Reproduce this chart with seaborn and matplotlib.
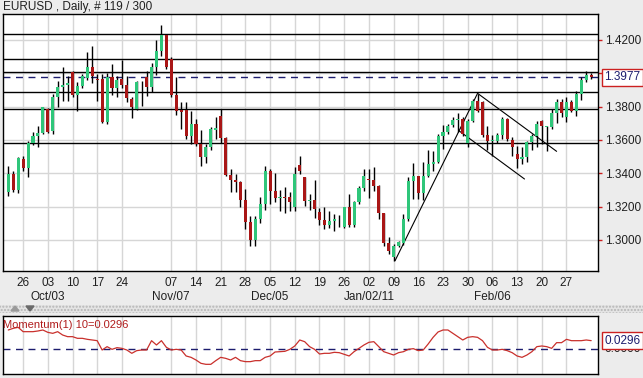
import numpy as np
import pandas as pd
import matplotlib
matplotlib.use('Agg')
import matplotlib.pyplot as plt
import matplotlib.transforms as mtransforms
from matplotlib.patches import Rectangle, Polygon
import seaborn as sns

# --- dados (EURUSD diario, 119 barras) ---
opens = [1.3286, 1.3396, 1.3300, 1.3486, 1.3432, 1.3580, 1.3626, 1.3640, 1.3786, 1.3656,
         1.3860, 1.3920, 1.3928, 1.4006, 1.3872, 1.3926, 1.3970, 1.4036, 1.3966, 1.3966,
         1.3706, 1.3980, 1.3912, 1.3966, 1.3932, 1.3846, 1.3786, 1.3946, 1.3980, 1.3920,
         1.4040, 1.4136, 1.4232, 1.4086, 1.3870, 1.3780, 1.3780, 1.3626, 1.3696, 1.3576,
         1.3500, 1.3560, 1.3662, 1.3746, 1.3612, 1.3392, 1.3362, 1.3346, 1.3240, 1.3106,
         1.3000, 1.3126, 1.3216, 1.3416, 1.3296, 1.3252, 1.3256, 1.3256, 1.3196, 1.3452,
         1.3376, 1.3232, 1.3240, 1.3166, 1.3120, 1.3092, 1.3116, 1.3126, 1.3080, 1.3196,
         1.3092, 1.3226, 1.3312, 1.3362, 1.3360, 1.3326, 1.3160, 1.2980, 1.2896, 1.2966,
         1.2980, 1.3126, 1.3356, 1.3382, 1.3280, 1.3386, 1.3456, 1.3470, 1.3626, 1.3646,
         1.3690, 1.3720, 1.3726, 1.3580, 1.3716, 1.3832, 1.3826, 1.3632, 1.3592, 1.3592,
         1.3632, 1.3726, 1.3600, 1.3516, 1.3486, 1.3500, 1.3586, 1.3626, 1.3716, 1.3680,
         1.3680, 1.3760, 1.3826, 1.3740, 1.3826, 1.3776, 1.3876, 1.3960, 1.3990]
highs = [1.3446, 1.3416, 1.3500, 1.3506, 1.3596, 1.3646, 1.3686, 1.3800, 1.3792, 1.3876,
         1.3956, 1.4040, 1.3986, 1.4012, 1.3946, 1.3996, 1.4130, 1.4166, 1.3996, 1.3996,
         1.4000, 1.4056, 1.3986, 1.4080, 1.3986, 1.3860, 1.3956, 1.3956, 1.4016, 1.4060,
         1.4200, 1.4292, 1.4236, 1.4096, 1.3980, 1.3826, 1.3826, 1.3776, 1.3726, 1.3660,
         1.3576, 1.3676, 1.3736, 1.3786, 1.3616, 1.3426, 1.3396, 1.3356, 1.3306, 1.3146,
         1.3146, 1.3256, 1.3446, 1.3426, 1.3400, 1.3300, 1.3320, 1.3286, 1.3436, 1.3506,
         1.3380, 1.3276, 1.3360, 1.3192, 1.3200, 1.3176, 1.3156, 1.3152, 1.3200, 1.3276,
         1.3236, 1.3326, 1.3426, 1.3426, 1.3436, 1.3332, 1.3160, 1.3016, 1.2976, 1.2996,
         1.3156, 1.3380, 1.3460, 1.3386, 1.3466, 1.3540, 1.3536, 1.3636, 1.3692, 1.3696,
         1.3736, 1.3760, 1.3740, 1.3726, 1.3846, 1.3876, 1.3832, 1.3686, 1.3632, 1.3640,
         1.3736, 1.3732, 1.3620, 1.3566, 1.3556, 1.3596, 1.3636, 1.3716, 1.3720, 1.3686,
         1.3786, 1.3846, 1.3846, 1.3860, 1.3840, 1.3892, 1.3976, 1.4012, 1.4004]
lows = [1.3266, 1.3286, 1.3282, 1.3416, 1.3380, 1.3572, 1.3560, 1.3636, 1.3640, 1.3636,
        1.3800, 1.3832, 1.3836, 1.3860, 1.3776, 1.3912, 1.3960, 1.3940, 1.3832, 1.3700,
        1.3696, 1.3872, 1.3860, 1.3912, 1.3826, 1.3732, 1.3780, 1.3806, 1.3866, 1.3886,
        1.3992, 1.4106, 1.4026, 1.3860, 1.3752, 1.3666, 1.3606, 1.3576, 1.3566, 1.3446,
        1.3460, 1.3540, 1.3606, 1.3580, 1.3386, 1.3286, 1.3286, 1.3200, 1.3066, 1.2966,
        1.2966, 1.3100, 1.3180, 1.3216, 1.3226, 1.3176, 1.3160, 1.3172, 1.3176, 1.3396,
        1.3206, 1.3180, 1.3132, 1.3092, 1.3066, 1.3072, 1.3052, 1.3076, 1.3072, 1.3080,
        1.3076, 1.3216, 1.3292, 1.3252, 1.3292, 1.3126, 1.2966, 1.2916, 1.2872, 1.2956,
        1.2972, 1.3116, 1.3246, 1.3246, 1.3240, 1.3376, 1.3416, 1.3460, 1.3546, 1.3636,
        1.3676, 1.3646, 1.3626, 1.3556, 1.3706, 1.3766, 1.3620, 1.3540, 1.3506, 1.3580,
        1.3606, 1.3596, 1.3506, 1.3432, 1.3456, 1.3466, 1.3540, 1.3556, 1.3576, 1.3532,
        1.3666, 1.3700, 1.3736, 1.3706, 1.3766, 1.3746, 1.3840, 1.3946, 1.3966]
closes = [1.3396, 1.3300, 1.3492, 1.3432, 1.3580, 1.3626, 1.3640, 1.3796, 1.3650, 1.3860,
          1.3920, 1.3928, 1.3944, 1.3872, 1.3926, 1.3984, 1.4036, 1.3986, 1.3962, 1.3706,
          1.3976, 1.3912, 1.3960, 1.3932, 1.3852, 1.3800, 1.3946, 1.3950, 1.3920, 1.4036,
          1.4136, 1.4232, 1.4040, 1.3870, 1.3776, 1.3770, 1.3626, 1.3696, 1.3576, 1.3500,
          1.3560, 1.3666, 1.3672, 1.3612, 1.3392, 1.3362, 1.3346, 1.3240, 1.3106, 1.3000,
          1.3126, 1.3216, 1.3416, 1.3296, 1.3252, 1.3256, 1.3250, 1.3226, 1.3396, 1.3416,
          1.3232, 1.3240, 1.3186, 1.3120, 1.3092, 1.3116, 1.3126, 1.3124, 1.3196, 1.3092,
          1.3226, 1.3312, 1.3386, 1.3360, 1.3326, 1.3160, 1.2980, 1.2936, 1.2966, 1.2986,
          1.3126, 1.3356, 1.3386, 1.3280, 1.3386, 1.3456, 1.3470, 1.3626, 1.3646, 1.3686,
          1.3720, 1.3726, 1.3636, 1.3716, 1.3836, 1.3772, 1.3632, 1.3592, 1.3600, 1.3632,
          1.3726, 1.3606, 1.3556, 1.3486, 1.3500, 1.3586, 1.3626, 1.3696, 1.3686, 1.3682,
          1.3760, 1.3826, 1.3760, 1.3826, 1.3776, 1.3876, 1.3960, 1.3992, 1.3977]

momentum = [0.0659, 0.0716, 0.0750, 0.0602, 0.0602, 0.0602, 0.0625, 0.0659, 0.0579, 0.0545,
            0.0602, 0.0488, 0.0432, 0.0432, 0.0375, 0.0375, 0.0341, 0.0318, 0.0295, -0.0023,
            0.0091, 0.0000, 0.0057, 0.0034, -0.0023, -0.0136, -0.0045, -0.0023, -0.0023, 0.0295,
            0.0148, 0.0295, 0.0068, -0.0023, 0.0000, -0.0023, -0.0227, -0.0273, -0.0364, -0.0477,
            -0.0511, -0.0511, -0.0386, -0.0273, -0.0307, -0.0364, -0.0273, -0.0386, -0.0420, -0.0420,
            -0.0386, -0.0386, -0.0273, -0.0227, -0.0091, -0.0080, -0.0068, 0.0000, 0.0114, 0.0318,
            0.0261, 0.0091, 0.0000, -0.0159, -0.0136, -0.0136, -0.0102, -0.0114, -0.0170, -0.0227,
            -0.0080, 0.0034, 0.0148, 0.0239, 0.0261, 0.0091, -0.0080, -0.0136, -0.0193, -0.0114,
            -0.0080, 0.0000, 0.0023, -0.0045, -0.0023, 0.0182, 0.0409, 0.0591, 0.0659, 0.0659,
            0.0545, 0.0432, 0.0318, 0.0409, 0.0432, 0.0409, 0.0295, 0.0068, -0.0023, -0.0023,
            0.0000, -0.0045, -0.0114, -0.0227, -0.0273, -0.0193, -0.0080, 0.0091, 0.0114, 0.0091,
            0.0034, 0.0227, 0.0227, 0.0341, 0.0295, 0.0295, 0.0295, 0.0318, 0.0296]

# eixo x: rotulos semanais (a semana de 31/out nao tem rotulo no original)
tick_idx = [3, 8, 13, 18, 23, 33, 38, 43, 48, 53, 58, 63, 68, 73, 78, 83, 88, 93, 98, 103, 108, 113]
tick_days = ['26', '03', '10', '17', '24', '07', '14', '21', '28', '05', '12',
             '19', '26', '02', '09', '16', '23', '30', '06', '13', '20', '27']
month_idx = [8, 33, 53, 73, 98]
month_labels = ['Oct/03', 'Nov/07', 'Dec/05', 'Jan/02/11', 'Feb/06']

# niveis horizontais e linhas de tendencia desenhadas no grafico
levels = [1.4234, 1.4084, 1.4007, 1.3886, 1.3785, 1.3582]
last_price = 1.3977
trend_up = ([78.3, 95.0], [1.2876, 1.3880])
channel_top = ([95.0, 111.0], [1.3880, 1.3532])
channel_bottom = ([91.2, 104.5], [1.3656, 1.3366])
price_ticks = [1.30, 1.32, 1.34, 1.36, 1.38, 1.40, 1.42]

df = pd.DataFrame({'open': opens, 'high': highs, 'low': lows, 'close': closes,
                   'momentum': momentum})
df['idx'] = np.arange(len(df))

sns.set_style('white')
plt.rcParams['font.family'] = ['Liberation Sans', 'DejaVu Sans']

W, H = 643, 378
fig = plt.figure(figsize=(W / 100, H / 100), dpi=100, facecolor='#ececec')
ax = fig.add_axes([3 / W, 1 - 271 / H, 595 / W, 257 / H])
ax2 = fig.add_axes([3 / W, 1 - 374 / H, 595 / W, 58 / H])

XMIN, XMAX = -1.07, 119.38
GRID = '#d6d6d6'
GREEN = '#2fc67a'
RED = '#a91616'
NAVY = '#1c1c6e'

# --- painel de precos ---
ax.set_facecolor('white')
for x in tick_idx:
    ax.axvline(x, color=GRID, lw=1, zorder=0)
for y in price_ticks:
    ax.axhline(y, color=GRID, lw=1, zorder=0)
for lv in levels:
    ax.axhline(lv, color='black', lw=1, zorder=1)
ax.axhline(last_price, color=NAVY, lw=1, ls=(0, (5, 4)), zorder=1)

ax.plot(*trend_up, color='black', lw=0.8, zorder=2)
ax.plot(*channel_top, color='black', lw=0.8, zorder=2)
ax.plot(*channel_bottom, color='black', lw=0.8, zorder=2)

up = df['close'] >= df['open']
ax.vlines(df['idx'], df['low'], df['high'], color='black', lw=1, zorder=3)
body_bottom = df[['open', 'close']].min(axis=1)
body_height = np.maximum((df['close'] - df['open']).abs(), 0.0004)
ax.bar(df['idx'], body_height, bottom=body_bottom, width=0.62,
       color=np.where(up, GREEN, RED), edgecolor='none', zorder=4)

ax.set_xlim(XMIN, XMAX)
ax.set_ylim(1.2814, 1.4356)
ax.set_xticks(tick_idx)
ax.set_xticklabels(tick_days, fontsize=8.5, color='#202020')
ax.tick_params(axis='x', length=0, pad=4)
ax.yaxis.tick_right()
ax.set_yticks(price_ticks)
ax.set_yticklabels([f'{v:.4f}' for v in price_ticks], fontsize=8.5, color='#202020')
ax.tick_params(axis='y', length=3, width=1, color='#cc2020', pad=2)
for s in ax.spines.values():
    s.set_color('black')
    s.set_linewidth(1)

trans = mtransforms.blended_transform_factory(ax.transData, ax.transAxes)
for i, lab in zip(month_idx, month_labels):
    ax.text(i, -0.101, lab, transform=trans, ha='center', va='center',
            fontsize=8.5, color='#202020')

ytrans = mtransforms.blended_transform_factory(ax.transAxes, ax.transData)
ax.text(1.011, last_price, f'{last_price:.4f}', transform=ytrans, ha='left', va='center',
        fontsize=8.5, color=NAVY, zorder=10,
        bbox=dict(boxstyle='square,pad=0.2', fc='white', ec='#cc2020', lw=1))

# --- faixa separadora ---
fig.patches.append(Rectangle((0, 1 - 313 / H), 1, 8 / H, transform=fig.transFigure,
                             facecolor='#e4e4e4', edgecolor='#b5b5b5', hatch='.....',
                             lw=0, zorder=0))
fig.patches.append(Polygon([[11 / W, 1 - 311 / H], [19 / W, 1 - 311 / H], [15 / W, 1 - 306 / H]],
                           closed=True, transform=fig.transFigure, color='#9a9a9a'))
fig.patches.append(Polygon([[26 / W, 1 - 306 / H], [34 / W, 1 - 306 / H], [30 / W, 1 - 311 / H]],
                           closed=True, transform=fig.transFigure, color='#6a6a6a'))

# --- painel do momentum ---
ax2.set_facecolor('white')
for x in tick_idx:
    ax2.axvline(x, color=GRID, lw=1, zorder=0)
ax2.axhline(0, color=NAVY, lw=1, ls=(0, (5, 4)), zorder=1)
sns.lineplot(data=df, x='idx', y='momentum', ax=ax2, color='#c9302c', lw=0.9, zorder=2)
ax2.set_xlim(XMIN, XMAX)
ax2.set_ylim(-0.0841, 0.1136)
ax2.set_xticks([])
ax2.set_yticks([])
ax2.set_xlabel('')
ax2.set_ylabel('')
for s in ax2.spines.values():
    s.set_color('black')
    s.set_linewidth(1)
ax2.text(0.0, 0.84, 'Momentum(1) 10=0.0296', transform=ax2.transAxes, ha='left',
         va='center', fontsize=8, color='#b01c1c')
ytrans2 = mtransforms.blended_transform_factory(ax2.transAxes, ax2.transData)
ax2.text(1.011, 0.0, '0.0000', transform=ytrans2, ha='left', va='center',
         fontsize=8.5, color='#202020')
ax2.text(1.011, momentum[-1], f'{momentum[-1]:.4f}', transform=ytrans2, ha='left',
         va='center', fontsize=8.5, color=NAVY, zorder=10,
         bbox=dict(boxstyle='square,pad=0.2', fc='white', ec='#cc2020', lw=1))

fig.text(3 / W, 1 - 7 / H, 'EURUSD , Daily, # 119 / 300', ha='left', va='center',
         fontsize=8.5, color='#202020')

plt.savefig('out.png', dpi=100, facecolor=fig.get_facecolor())
